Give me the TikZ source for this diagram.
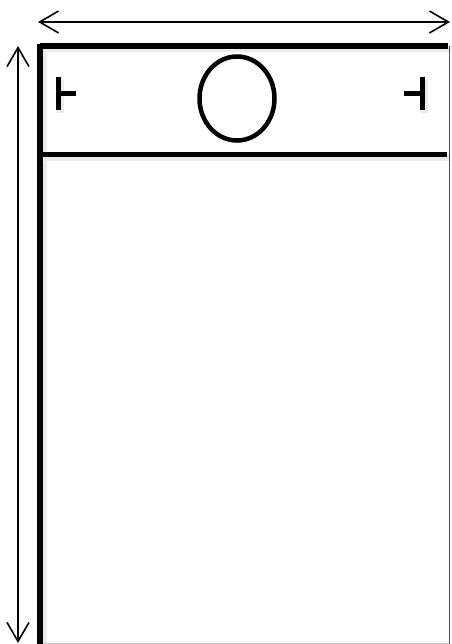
\documentclass[tikz,border=0pt]{standalone}
\usetikzlibrary{arrows.meta,shapes.geometric}
\begin{document}
\begin{tikzpicture}[x=1pt,y=-1pt,
  dimarrow/.style={line width=1.6pt,{Straight Barb[length=19pt,width=22pt,line width=1.6pt]}-{Straight Barb[length=19pt,width=22pt,line width=1.6pt]}},
  heavy/.style={line width=5.5pt},
  thinedge/.style={line width=1pt,black!70},
  shade/.style={line width=7pt,black!8},
  tmark/.style={line width=5pt},
  lensstyle/.style={draw,ellipse,line width=4.5pt,minimum width=75pt,minimum height=84pt,inner sep=0pt}]
\useasboundingbox (0,0) rectangle (451,644);
% coordinates
\coordinate (tl) at (40,46);
\coordinate (tr) at (449,46);
\coordinate (bl) at (40,644);
\coordinate (br) at (449,644);
\coordinate (hl) at (37,154.5);
\coordinate (hr) at (447,154.5);
\coordinate (ha) at (38,22);
\coordinate (hb) at (450,22);
\coordinate (va) at (18,46);
\coordinate (vb) at (18,643);
% shadows
\draw[shade] ([shift={(2,3)}]tl) -- ([shift={(2,3)}]tr);
\draw[shade] ([shift={(2,3)}]hl) -- ([shift={(2,3)}]hr);
\draw[shade] ([shift={(3,2)}]tl) -- ([shift={(3,2)}]bl);
% box
\draw[thinedge] (tr) -- (br);
\draw[line width=1pt,black!20] (43,643.5) -- (449,643.5);
\draw[heavy] (tl) -- ([xshift=-1pt]tr);
\draw[heavy,line cap=rect] ([yshift=-1pt]tl) -- (bl);
\draw[heavy] (hl) -- (hr);
% circle
\node[lensstyle] (lens) at (237,98.5) {};
% T marks
\draw[black!8,line width=7pt] (60,80) -- (60,113);
\draw[black!8,line width=7pt] (424,80) -- (424,113);
\draw[tmark] (58,77) -- (58,110);
\draw[tmark] (58,94) -- (76,94);
\draw[tmark] (422,77) -- (422,110);
\draw[tmark] (404,94) -- (422,94);
% dimension arrows
\draw[dimarrow] (ha) -- (hb);
\draw[dimarrow] (va) -- (vb);
\end{tikzpicture}
\end{document}
